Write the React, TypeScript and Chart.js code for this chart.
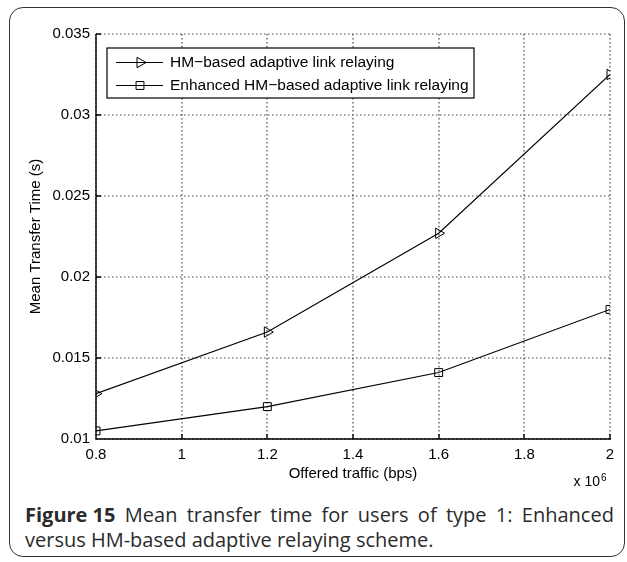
import React, { useEffect, useRef } from 'react';
import { Chart, registerables } from 'chart.js';

Chart.register(...registerables);

// ---- data ----
const offeredTraffic = [800000, 1200000, 1600000, 2000000];
const hmBasedTime = [0.0128, 0.0166, 0.0227, 0.0325];
const enhancedTime = [0.0105, 0.012, 0.0141, 0.018];
const seriesLabels = ['HM\u2212based adaptive link relaying', 'Enhanced HM\u2212based adaptive link relaying'];
const seriesMarkers = ['triangle', 'rect'];
const xAxisTitle = 'Offered traffic (bps)';
const yAxisTitle = 'Mean Transfer Time (s)';
const xRange = [800000, 2000000];
const yRange = [0.01, 0.035];
const xStep = 200000;
const yStep = 0.005;
const xMultiplierBase = 'x 10';
const xMultiplierExp = '6';
const captionBold = 'Figure 15';
const captionLine1 = 'Mean transfer time for users of type 1: Enhanced';
const captionLine2 = 'versus HM-based adaptive relaying scheme.';

const AXIS_FONT = '"Liberation Sans", Arial, Helvetica, sans-serif';

function drawMarker(ctx: CanvasRenderingContext2D, style: string, x: number, y: number, r: number) {
  ctx.beginPath();
  if (style === 'triangle') {
    let rad = Math.PI / 2;
    ctx.moveTo(x + Math.sin(rad) * r, y - Math.cos(rad) * r);
    rad += (2 * Math.PI) / 3;
    ctx.lineTo(x + Math.sin(rad) * r, y - Math.cos(rad) * r);
    rad += (2 * Math.PI) / 3;
    ctx.lineTo(x + Math.sin(rad) * r, y - Math.cos(rad) * r);
    ctx.closePath();
  } else {
    const s = Math.SQRT1_2 * r;
    ctx.rect(x - s, y - s, 2 * s, 2 * s);
  }
  ctx.stroke();
}

const decorPlugin = {
  id: 'matlabDecor',
  beforeDatasetsDraw(chart: any) {
    const { ctx, chartArea, scales } = chart;
    const xs = scales.x;
    const ys = scales.y;
    ctx.save();
    // dotted MATLAB-style grid
    ctx.strokeStyle = '#444';
    ctx.lineWidth = 1.2;
    ctx.setLineDash([1.5, 2.5]);
    ctx.beginPath();
    xs.ticks.forEach((t: any) => {
      const px = Math.round(xs.getPixelForValue(t.value));
      ctx.moveTo(px, chartArea.top);
      ctx.lineTo(px, chartArea.bottom);
    });
    ys.ticks.forEach((t: any) => {
      const py = Math.round(ys.getPixelForValue(t.value));
      ctx.moveTo(chartArea.left, py);
      ctx.lineTo(chartArea.right, py);
    });
    ctx.stroke();
    // left and bottom axes with inward ticks
    ctx.setLineDash([]);
    ctx.lineWidth = 1.4;
    ctx.strokeStyle = '#000';
    ctx.beginPath();
    const lx = Math.round(chartArea.left);
    const by = Math.round(chartArea.bottom);
    ctx.moveTo(lx, chartArea.top);
    ctx.lineTo(lx, by);
    ctx.lineTo(chartArea.right + 1, by);
    xs.ticks.forEach((t: any) => {
      const px = Math.round(xs.getPixelForValue(t.value));
      ctx.moveTo(px, by);
      ctx.lineTo(px, by - 5);
    });
    ys.ticks.forEach((t: any) => {
      const py = Math.round(ys.getPixelForValue(t.value));
      ctx.moveTo(lx, py);
      ctx.lineTo(lx + 5, py);
    });
    ctx.stroke();
    ctx.restore();
  },
  afterDatasetsDraw(chart: any) {
    const { ctx, chartArea } = chart;
    ctx.save();
    // legend box
    const bx = chartArea.left + 11;
    const by = chartArea.top + 14;
    const bw = 367;
    const bh = 50;
    ctx.fillStyle = '#fff';
    ctx.fillRect(bx, by, bw, bh);
    ctx.strokeStyle = '#000';
    ctx.lineWidth = 1.2;
    ctx.strokeRect(bx, by, bw, bh);
    ctx.lineWidth = 1;
    chart.data.datasets.forEach((ds: any, i: number) => {
      const cy = by + 14 + i * 23;
      ctx.beginPath();
      ctx.moveTo(bx + 9, cy + 0.5);
      ctx.lineTo(bx + 56, cy + 0.5);
      ctx.stroke();
      drawMarker(ctx, seriesMarkers[i], bx + 33, cy + 0.5, ds.pointRadius);
      ctx.fillStyle = '#000';
      ctx.font = `15.5px ${AXIS_FONT}`;
      ctx.textBaseline = 'middle';
      ctx.textAlign = 'left';
      ctx.fillText(ds.label, bx + 63, cy + 1);
    });
    // axis multiplier
    ctx.fillStyle = '#000';
    ctx.textBaseline = 'alphabetic';
    ctx.textAlign = 'right';
    ctx.font = `14px ${AXIS_FONT}`;
    ctx.fillText(xMultiplierBase, chartArea.right - 10, chartArea.bottom + 47);
    ctx.textAlign = 'left';
    ctx.font = `10px ${AXIS_FONT}`;
    ctx.fillText(xMultiplierExp, chartArea.right - 9, chartArea.bottom + 42);
    ctx.restore();
  },
};

function ChartCanvas() {
  const ref = useRef<HTMLCanvasElement | null>(null);
  useEffect(() => {
    if (!ref.current) return;
    const tickFont = { family: AXIS_FONT, size: 15 };
    const chart = new Chart(ref.current, {
      type: 'line',
      data: {
        datasets: [hmBasedTime, enhancedTime].map((vals, i) => ({
          label: seriesLabels[i],
          data: offeredTraffic.map((x, k) => ({ x, y: vals[k] })),
          borderColor: '#000',
          borderWidth: 1.1,
          pointStyle: seriesMarkers[i] as any,
          rotation: i === 0 ? 90 : 0,
          pointRadius: i === 0 ? 6 : 5.6,
          pointBorderColor: '#000',
          pointBackgroundColor: 'rgba(0,0,0,0)',
          pointBorderWidth: 1,
          fill: false,
          tension: 0,
        })),
      },
      options: {
        animation: false,
        responsive: false,
        maintainAspectRatio: false,
        layout: { padding: { left: 0, right: 17, top: 34, bottom: 0 } },
        plugins: { legend: { display: false }, tooltip: { enabled: false } },
        scales: {
          x: {
            type: 'linear',
            min: xRange[0],
            max: xRange[1],
            afterFit: (s: any) => {
              s.height = 61;
            },
            ticks: {
              stepSize: xStep,
              autoSkip: false,
              maxRotation: 0,
              padding: 7,
              color: '#000',
              font: tickFont,
              callback: (v: any) => String(Math.round(Number(v) / 1e5) / 10),
            },
            grid: { display: false, drawTicks: false },
            border: { display: false },
            title: { display: true, text: xAxisTitle, color: '#000', font: tickFont, padding: { top: 0, bottom: 17 } },
          },
          y: {
            type: 'linear',
            min: yRange[0],
            max: yRange[1],
            afterFit: (s: any) => {
              s.width = 96;
            },
            ticks: {
              stepSize: yStep,
              padding: 6,
              color: '#000',
              font: tickFont,
              callback: (v: any) => String(Number(Number(v).toFixed(4))),
            },
            grid: { display: false, drawTicks: false },
            border: { display: false },
            title: { display: true, text: yAxisTitle, color: '#000', font: tickFont, padding: { top: 27, bottom: 0 } },
          },
        },
      },
      plugins: [decorPlugin],
    });
    return () => chart.destroy();
  }, []);
  return <canvas ref={ref} width={627} height={500} style={{ position: 'absolute', left: 0, top: 0, width: 627, height: 500 }} />;
}

export default function App() {
  const captionFont = '"Open Sans", "Noto Sans", sans-serif';
  const words = captionLine1.split(' ');
  return (
    <div style={{ position: 'absolute', left: 0, top: 0, width: 627, height: 562, background: '#fff', overflow: 'hidden' }}>
      <div style={{ position: 'absolute', left: 9, top: 7, width: 616, height: 550, border: '1.5px solid #333', borderRadius: 14, boxSizing: 'border-box' }} />
      <ChartCanvas />
      <div style={{ position: 'absolute', left: 25, top: 502, width: 589, fontFamily: captionFont, fontSize: 20, lineHeight: '25px', color: '#2b2b2b' }}>
        <div style={{ display: 'flex', justifyContent: 'space-between', whiteSpace: 'nowrap' }}>
          <span style={{ fontWeight: 700 }}>{captionBold}</span>
          {words.map((w, i) => (
            <span key={i}>{w}</span>
          ))}
        </div>
        <div style={{ whiteSpace: 'nowrap' }}>{captionLine2}</div>
      </div>
    </div>
  );
}
